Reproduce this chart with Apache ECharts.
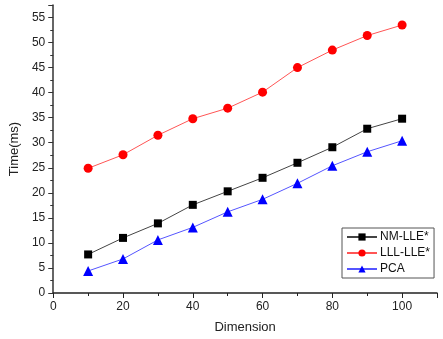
<!DOCTYPE html>
<html>
<head>
<meta charset="utf-8">
<script src="https://cdn.jsdelivr.net/npm/echarts@6/dist/echarts.min.js"></script>
<style>
  html, body { margin: 0; padding: 0; background: #fff; }
  #chart { width: 443px; height: 339px; }
</style>
</head>
<body>
<div id="chart"></div>
<script>
// dimensions on x axis
var dims = [10, 20, 30, 40, 50, 60, 70, 80, 90, 100];
// time in ms
var nmLle = [7.7, 11.0, 13.9, 17.6, 20.3, 23.0, 26.0, 29.1, 32.8, 34.8];
var lllLle = [24.9, 27.6, 31.5, 34.8, 36.9, 40.1, 45.0, 48.5, 51.4, 53.5];
var pca = [4.4, 6.8, 10.6, 13.1, 16.2, 18.7, 21.9, 25.4, 28.2, 30.4];

function pairs(ys) {
  return dims.map(function (d, i) { return [d, ys[i]]; });
}

var font = 'Liberation Sans, Arial, sans-serif';
var myChart = echarts.init(document.getElementById('chart'));

var option = {
  animation: false,
  grid: { left: 50, right: 6, top: 5, bottom: 46 },
  xAxis: {
    type: 'value',
    min: 0, max: 110, interval: 20,
    name: 'Dimension',
    nameLocation: 'middle',
    nameGap: 28,
    nameTextStyle: { fontFamily: font, fontSize: 13, color: '#222' },
    axisLine: { lineStyle: { color: '#222', width: 1.5 } },
    axisTick: { show: true, inside: false, length: 5, lineStyle: { color: '#222' } },
    minorTick: { show: true, splitNumber: 2, length: 3, lineStyle: { color: '#222' } },
    axisLabel: { fontFamily: font, fontSize: 12, color: '#222', margin: 8, showMaxLabel: false },
    splitLine: { show: false }
  },
  yAxis: {
    type: 'value',
    min: 0, max: 57.5, interval: 5,
    name: 'Time(ms)',
    nameLocation: 'middle',
    nameGap: 32,
    nameTextStyle: { fontFamily: font, fontSize: 13, color: '#222' },
    axisLine: { show: true, lineStyle: { color: '#333', width: 1.5 } },
    axisTick: { show: true, inside: false, length: 5, lineStyle: { color: '#333' } },
    minorTick: { show: true, splitNumber: 2, length: 3, lineStyle: { color: '#333' } },
    axisLabel: { fontFamily: font, fontSize: 12, color: '#222', margin: 8, showMaxLabel: false },
    splitLine: { show: false }
  },
  legend: {
    orient: 'vertical',
    left: 342, top: 228,
    width: 94,
    padding: [3, 4, 3, 4],
    itemGap: 4,
    itemWidth: 30,
    itemHeight: 9,
    borderColor: '#555',
    borderWidth: 1,
    textStyle: { fontFamily: font, fontSize: 12, color: '#111', padding: [0, 0, 0, -2] },
    data: ['NM-LLE*', 'LLL-LLE*', 'PCA']
  },
  series: [
    {
      name: 'NM-LLE*', type: 'line',
      data: pairs(nmLle),
      symbol: 'rect', symbolSize: 8,
      itemStyle: { color: '#000' },
      lineStyle: { color: '#444', width: 1 }
    },
    {
      name: 'LLL-LLE*', type: 'line',
      data: pairs(lllLle),
      symbol: 'circle', symbolSize: 9,
      itemStyle: { color: '#ff0000' },
      lineStyle: { color: '#ff5555', width: 1 }
    },
    {
      name: 'PCA', type: 'line',
      data: pairs(pca),
      symbol: 'triangle', symbolSize: 10,
      itemStyle: { color: '#0000ff' },
      lineStyle: { color: '#5555ff', width: 1 }
    }
  ]
};

myChart.setOption(option);
</script>
</body>
</html>
